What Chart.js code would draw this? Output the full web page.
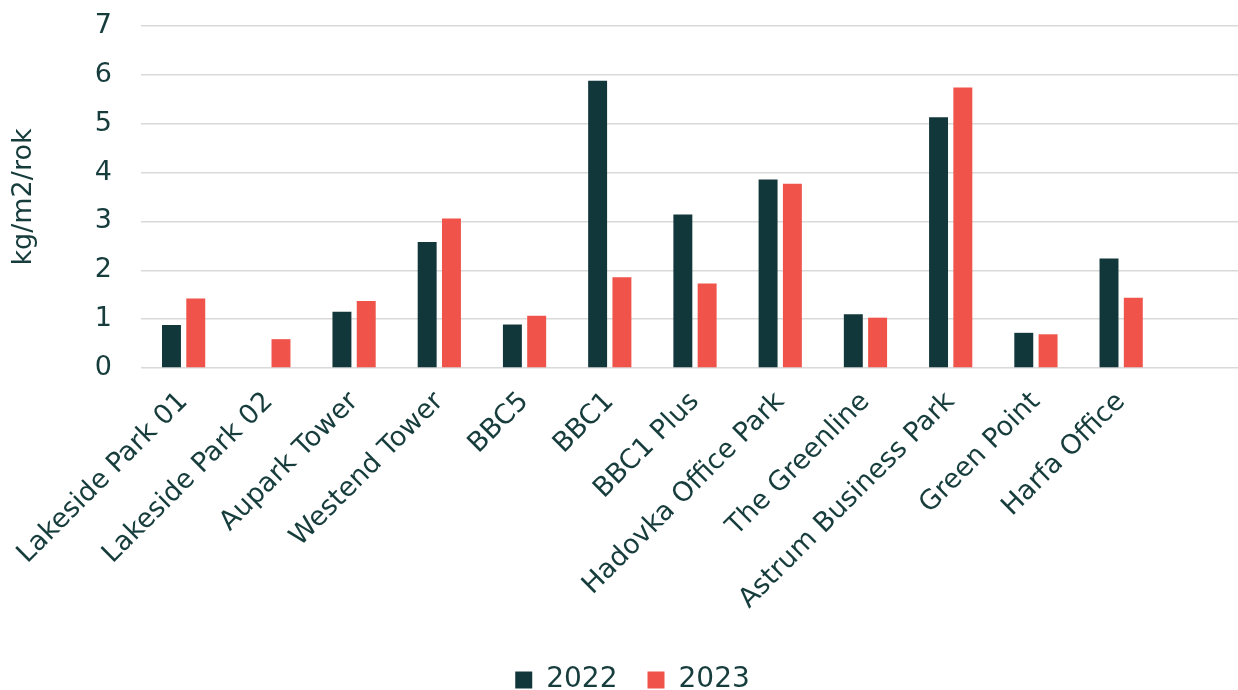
<!DOCTYPE html>
<html>
<head>
<meta charset="utf-8">
<script src="https://cdn.jsdelivr.net/npm/chart.js@4"></script>
<style>
  html, body { margin: 0; padding: 0; background: #fff; overflow: hidden; }
  .wrap { width: 1252px; height: 690px; }
</style>
</head>
<body>
<div class="wrap"><canvas id="emisChart"></canvas></div>
<script>
// hodnoty
const budovy = ['Lakeside Park 01', 'Lakeside Park 02', 'Aupark Tower', 'Westend Tower', 'BBC5', 'BBC1',
  'BBC1 Plus', 'Hadovka Office Park', 'The Greenline', 'Astrum Business Park', 'Green Point', 'Harfa Office', ''];
const hodnoty2022 = [0.88, null, 1.15, 2.58, 0.89, 5.88, 3.14, 3.86, 1.10, 5.13, 0.72, 2.24, null];
const hodnoty2023 = [1.42, 0.59, 1.37, 3.06, 1.07, 1.86, 1.73, 3.77, 1.03, 5.74, 0.69, 1.44, null];
const osaY = [0, 1, 2, 3, 4, 5, 6, 7];

const textColor = '#163c3c';
const fontFam = '"DejaVu Sans", sans-serif';

const ctx = document.getElementById('emisChart').getContext('2d');
new Chart(ctx, {
  type: 'bar',
  data: {
    labels: budovy,
    datasets: [
      {
        label: '2022',
        data: hodnoty2022,
        backgroundColor: '#12373a',
        categoryPercentage: 0.57,
        barPercentage: 0.78
      },
      {
        label: '2023',
        data: hodnoty2023,
        backgroundColor: '#ef5349',
        categoryPercentage: 0.57,
        barPercentage: 0.78
      }
    ]
  },
  options: {
    responsive: true,
    maintainAspectRatio: false,
    animation: false,
    layout: { padding: { top: 26, right: 3, left: 16, bottom: -14 } },
    plugins: {
      tooltip: { enabled: false },
      legend: {
        position: 'bottom',
        labels: {
          color: textColor,
          font: { family: fontFam, size: 28 },
          boxWidth: 17,
          boxHeight: 17,
          padding: 30
        }
      }
    },
    scales: {
      x: {
        grid: { display: false },
        border: { display: false },
        afterFit: axis => {
          axis.paddingLeft = 0;
          axis.paddingRight = 0;
          axis.height = 268;
        },
        ticks: {
          color: textColor,
          font: { family: fontFam, size: 27 },
          maxRotation: 45,
          minRotation: 45,
          autoSkip: false,
          padding: 10
        }
      },
      y: {
        min: 0,
        max: 7,
        afterBuildTicks: axis => { axis.ticks = osaY.map(v => ({ value: v })); },
        afterFit: axis => {
          axis.paddingTop = 0;
          axis.paddingBottom = 0;
          axis.width = 125;
        },
        grid: { color: '#d9d9d9', lineWidth: 1.5, drawTicks: false },
        border: { display: false },
        ticks: {
          color: textColor,
          font: { family: fontFam, size: 27 },
          padding: 29
        },
        title: {
          display: true,
          text: 'kg/m2/rok',
          color: textColor,
          font: { family: fontFam, size: 27 },
          padding: { top: -8, bottom: 0 }
        }
      }
    }
  }
});
</script>
</body>
</html>
